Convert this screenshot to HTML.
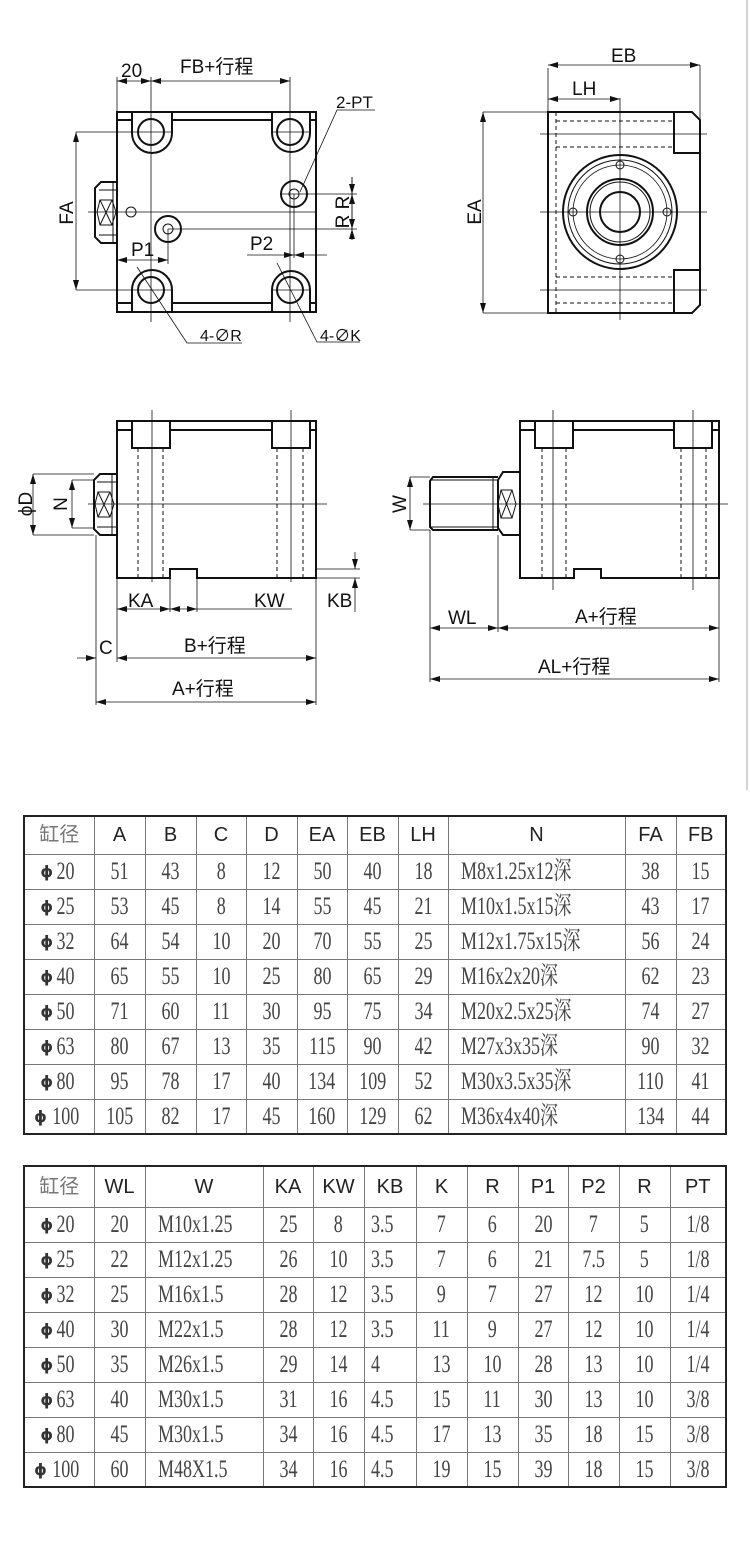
<!DOCTYPE html>
<html><head><meta charset="utf-8"><style>
body{margin:0;background:#fff;width:750px;height:1564px;position:relative;overflow:hidden;font-family:"Liberation Sans","Noto Sans CJK SC",sans-serif}
svg{position:absolute;left:0;top:0}
table{position:absolute;left:23px;border-collapse:collapse;table-layout:fixed;border:2px solid #222}
td{border:1px solid #777;padding:0;text-align:center;color:#222;overflow:hidden;white-space:nowrap;line-height:20px}
tr.h td{font-family:"Liberation Sans","Noto Sans CJK SC",sans-serif;font-size:20px}
td.g{font-family:"Noto Serif CJK SC","Liberation Serif",serif;color:#777;font-size:20px}
.d{display:inline-block;font-family:"Liberation Serif","Noto Serif CJK SC",serif;font-size:25px;line-height:20px;transform:scaleX(.72);color:#444;position:relative;top:2px}
td.l{text-align:left;padding-left:12px}
td.l .d{transform-origin:left center}
.p{font-family:"DejaVu Sans",sans-serif;font-weight:bold;font-size:16px;line-height:20px;color:#333}
</style></head><body>
<svg width="750" height="790" viewBox="0 0 750 790" fill="none" stroke="#111" font-family="Liberation Sans, Noto Sans CJK SC, sans-serif">
<defs><marker id="a" viewBox="0 0 10 6" refX="10" refY="3" markerWidth="10" markerHeight="6" orient="auto-start-reverse" markerUnits="userSpaceOnUse"><path d="M0,0L10,3L0,6z" fill="#111" stroke="none"/></marker></defs>
<line x1="747" y1="0" x2="747" y2="790" stroke="#aaa"/>
<!-- TOP LEFT -->
<g stroke-width="2">
<rect x="117" y="112" width="199" height="200"/>
<path d="M132,112V133A20,20 0 0 0 172,133V112M272,112V133A19,19 0 0 0 310,133V112"/>
<path d="M132,312V290A20,20 0 0 1 172,290V312M272,312V290A19,19 0 0 1 310,290V312"/>
<path d="M117,120H132M172,120H272M310,120H316M117,303H132M172,303H272M310,303H316"/>
<circle cx="151" cy="132" r="13"/><circle cx="290" cy="132" r="13"/>
<circle cx="151" cy="290" r="13"/><circle cx="290" cy="290" r="13"/>
<circle cx="294" cy="194" r="13"/><circle cx="168" cy="229" r="13"/>
<path d="M117,182H101L95,188V237L101,243H117"/>
</g>
<g stroke-width="1">
<circle cx="294" cy="194" r="5"/><circle cx="168" cy="229" r="5"/><circle cx="131" cy="212" r="5"/>
<path d="M100,200H112L116,212L112,225H100L97,212Z M100,200L112,225M112,200L100,225M113,182V243M99,190H117M99,235H117"/>
</g>
<g stroke-width="0.8">
<path d="M88,212H316M76,132H172M76,290H172M151,77V322M290,77V322M117,77V112M272,132H309M272,290H309"/>
<path d="M280,194H357M168,229H357M294,194V258M168,229V264M352,177V240"/>
<line x1="117" y1="81" x2="151" y2="81" marker-start="url(#a)" marker-end="url(#a)"/>
<line x1="151" y1="81" x2="290" y2="81" marker-start="url(#a)" marker-end="url(#a)"/>
<line x1="76" y1="132" x2="76" y2="290" marker-start="url(#a)" marker-end="url(#a)"/>
<line x1="117" y1="260" x2="168" y2="260" marker-start="url(#a)" marker-end="url(#a)"/>
<line x1="247" y1="255" x2="294" y2="255" marker-end="url(#a)"/><line x1="327" y1="255" x2="294" y2="255" marker-end="url(#a)"/>
<line x1="352" y1="177" x2="352" y2="194" marker-end="url(#a)"/><line x1="352" y1="212" x2="352" y2="194" marker-end="url(#a)"/>
<line x1="352" y1="212" x2="352" y2="229" marker-end="url(#a)"/><line x1="352" y1="240" x2="352" y2="229" marker-end="url(#a)"/>
<path d="M300,192L337,110H375M137,267L187,343H242M277,263L317,342H360"/>
</g>
<g fill="#111" stroke="none" font-size="19">
<text x="121" y="77">20</text><text x="180" y="73">FB+行程</text>
<text x="336" y="108" font-size="17">2-PT</text><text x="131" y="256">P1</text><text x="250" y="250">P2</text>
<text x="200" y="341" font-size="16">4-∅R</text><text x="320" y="341" font-size="16">4-∅K</text>
<text transform="translate(73,213) rotate(-90)" text-anchor="middle">FA</text>
<text transform="translate(349,212) rotate(-90)" text-anchor="middle">R R</text>
</g>
<!-- TOP RIGHT -->
<g stroke-width="2">
<path d="M548,112H692L700,120V305L692,313H548Z"/>
<path d="M674,112V153H700M674,313V270H700"/>
<circle cx="620" cy="212" r="57"/><circle cx="620" cy="212" r="33"/><circle cx="620" cy="212" r="20"/>
</g>
<g stroke-width="1">
<circle cx="620" cy="212" r="52"/><circle cx="620" cy="212" r="30"/>
<circle cx="620" cy="165" r="4"/><circle cx="620" cy="259" r="4"/><circle cx="573" cy="212" r="4"/><circle cx="667" cy="212" r="4"/>
<path d="M556,112V313M556,121H674M556,147H674M556,277H674M556,303H674" stroke-dasharray="4,3"/>
</g>
<g stroke-width="0.8">
<circle cx="620" cy="212" r="47"/>
<path d="M540,134H707M540,290H707M540,212H707M620,98V320M548,68V112M700,65V120M483,112H548M483,313H548"/>
<line x1="548" y1="65" x2="700" y2="65" marker-start="url(#a)" marker-end="url(#a)"/>
<line x1="548" y1="99" x2="620" y2="99" marker-start="url(#a)" marker-end="url(#a)"/>
<line x1="483" y1="112" x2="483" y2="313" marker-start="url(#a)" marker-end="url(#a)"/>
</g>
<g fill="#111" stroke="none" font-size="19">
<text x="611" y="62">EB</text><text x="572" y="95">LH</text>
<text transform="translate(481,212) rotate(-90)" text-anchor="middle">EA</text>
</g>
<!-- BOTTOM LEFT -->
<g stroke-width="2">
<path d="M117,421H316V578H197V569H170V578H117Z"/>
<path d="M132,421V448H170V421M272,421V448H310V421M117,430H132M170,430H272M310,430H316"/>
<path d="M117,474H100L94,480V529L100,535H117"/>
</g>
<g stroke-width="1">
<path d="M98,492H110L114,504L110,517H98L95,504Z M98,492L110,517M110,492L98,517M112,474V535M97,482H117M97,527H117"/>
<path d="M138,448V578M163,448V578M277,448V578M303,448V578" stroke-dasharray="4,3"/>
</g>
<g stroke-width="0.8">
<path d="M152,410V582M291,410V582M88,504H327M33,474H94M72,480H94M72,528H94M33,535H94"/>
<path d="M316,569H360M316,578H360M170,578V612M197,578V612M96,535V705M117,578V662M316,578V705"/>
<line x1="33" y1="474" x2="33" y2="535" marker-start="url(#a)" marker-end="url(#a)"/>
<line x1="72" y1="480" x2="72" y2="528" marker-start="url(#a)" marker-end="url(#a)"/>
<line x1="355" y1="552" x2="355" y2="569" marker-end="url(#a)"/><line x1="355" y1="612" x2="355" y2="578" marker-end="url(#a)"/>
<line x1="117" y1="609" x2="170" y2="609" marker-start="url(#a)" marker-end="url(#a)"/>
<line x1="170" y1="609" x2="197" y2="609" marker-start="url(#a)" marker-end="url(#a)"/>
<line x1="197" y1="609" x2="292" y2="609"/>
<line x1="77" y1="658" x2="96" y2="658" marker-end="url(#a)"/>
<line x1="117" y1="658" x2="316" y2="658" marker-start="url(#a)" marker-end="url(#a)"/>
<line x1="96" y1="702" x2="316" y2="702" marker-start="url(#a)" marker-end="url(#a)"/>
</g>
<g fill="#111" stroke="none" font-size="19">
<text x="128" y="607">KA</text><text x="254" y="607">KW</text><text x="327" y="607">KB</text>
<text x="99" y="654">C</text><text x="184" y="652">B+行程</text><text x="172" y="695">A+行程</text>
<text transform="translate(32,504) rotate(-90)" text-anchor="middle">ϕD</text>
<text transform="translate(67,504) rotate(-90)" text-anchor="middle">N</text>
</g>
<!-- BOTTOM RIGHT -->
<g stroke-width="2">
<path d="M520,421H719V578H601V569H574V578H520Z"/>
<path d="M535,421V448H573V421M674,421V448H712V421M520,430H535M573,430H674M712,430H719"/>
<path d="M520,472H503L498,480V528L503,535H520Z"/>
<path d="M498,477H433L430,481V527L433,530H498"/>
</g>
<g stroke-width="1">
<path d="M501,490H512L516,504L512,518H501L498,504Z M501,490L512,518M512,490L501,518"/>
<path d="M430,480H498M430,527H498M493,477V530"/>
<path d="M542,448V578M566,448V578M681,448V578M706,448V578" stroke-dasharray="4,3"/>
</g>
<g stroke-width="0.8">
<path d="M553,410V590M693,410V590M423,504H728M410,477H430M410,530H430M430,530V682M498,535V632M719,578V682"/>
<line x1="410" y1="477" x2="410" y2="530" marker-start="url(#a)" marker-end="url(#a)"/>
<line x1="430" y1="628" x2="498" y2="628" marker-start="url(#a)" marker-end="url(#a)"/>
<line x1="498" y1="628" x2="719" y2="628" marker-start="url(#a)" marker-end="url(#a)"/>
<line x1="430" y1="679" x2="719" y2="679" marker-start="url(#a)" marker-end="url(#a)"/>
</g>
<g fill="#111" stroke="none" font-size="19">
<text x="448" y="624">WL</text><text x="575" y="623">A+行程</text><text x="538" y="673">AL+行程</text>
<text transform="translate(406,504) rotate(-90)" text-anchor="middle">W</text>
</g>
</svg>

<table style="top:815px;width:704px">
<colgroup><col style="width:70px"><col style="width:51px"><col style="width:51px"><col style="width:50px"><col style="width:51px"><col style="width:50px"><col style="width:51px"><col style="width:50px"><col style="width:177px"><col style="width:51px"><col style="width:50px"></colgroup>
<tr class="h" style="height:38px"><td class="g">缸径</td><td>A</td><td>B</td><td>C</td><td>D</td><td>EA</td><td>EB</td><td>LH</td><td>N</td><td>FA</td><td>FB</td></tr>
<tr style="height:35px"><td><span class="p">ϕ</span><span class="d">20</span></td><td><span class="d">51</span></td><td><span class="d">43</span></td><td><span class="d">8</span></td><td><span class="d">12</span></td><td><span class="d">50</span></td><td><span class="d">40</span></td><td><span class="d">18</span></td><td class="l"><span class="d">M8x1.25x12深</span></td><td><span class="d">38</span></td><td><span class="d">15</span></td></tr>
<tr style="height:35px"><td><span class="p">ϕ</span><span class="d">25</span></td><td><span class="d">53</span></td><td><span class="d">45</span></td><td><span class="d">8</span></td><td><span class="d">14</span></td><td><span class="d">55</span></td><td><span class="d">45</span></td><td><span class="d">21</span></td><td class="l"><span class="d">M10x1.5x15深</span></td><td><span class="d">43</span></td><td><span class="d">17</span></td></tr>
<tr style="height:35px"><td><span class="p">ϕ</span><span class="d">32</span></td><td><span class="d">64</span></td><td><span class="d">54</span></td><td><span class="d">10</span></td><td><span class="d">20</span></td><td><span class="d">70</span></td><td><span class="d">55</span></td><td><span class="d">25</span></td><td class="l"><span class="d">M12x1.75x15深</span></td><td><span class="d">56</span></td><td><span class="d">24</span></td></tr>
<tr style="height:35px"><td><span class="p">ϕ</span><span class="d">40</span></td><td><span class="d">65</span></td><td><span class="d">55</span></td><td><span class="d">10</span></td><td><span class="d">25</span></td><td><span class="d">80</span></td><td><span class="d">65</span></td><td><span class="d">29</span></td><td class="l"><span class="d">M16x2x20深</span></td><td><span class="d">62</span></td><td><span class="d">23</span></td></tr>
<tr style="height:35px"><td><span class="p">ϕ</span><span class="d">50</span></td><td><span class="d">71</span></td><td><span class="d">60</span></td><td><span class="d">11</span></td><td><span class="d">30</span></td><td><span class="d">95</span></td><td><span class="d">75</span></td><td><span class="d">34</span></td><td class="l"><span class="d">M20x2.5x25深</span></td><td><span class="d">74</span></td><td><span class="d">27</span></td></tr>
<tr style="height:35px"><td><span class="p">ϕ</span><span class="d">63</span></td><td><span class="d">80</span></td><td><span class="d">67</span></td><td><span class="d">13</span></td><td><span class="d">35</span></td><td><span class="d">115</span></td><td><span class="d">90</span></td><td><span class="d">42</span></td><td class="l"><span class="d">M27x3x35深</span></td><td><span class="d">90</span></td><td><span class="d">32</span></td></tr>
<tr style="height:35px"><td><span class="p">ϕ</span><span class="d">80</span></td><td><span class="d">95</span></td><td><span class="d">78</span></td><td><span class="d">17</span></td><td><span class="d">40</span></td><td><span class="d">134</span></td><td><span class="d">109</span></td><td><span class="d">52</span></td><td class="l"><span class="d">M30x3.5x35深</span></td><td><span class="d">110</span></td><td><span class="d">41</span></td></tr>
<tr style="height:35px"><td><span class="p">ϕ</span><span class="d">100</span></td><td><span class="d">105</span></td><td><span class="d">82</span></td><td><span class="d">17</span></td><td><span class="d">45</span></td><td><span class="d">160</span></td><td><span class="d">129</span></td><td><span class="d">62</span></td><td class="l"><span class="d">M36x4x40深</span></td><td><span class="d">134</span></td><td><span class="d">44</span></td></tr>
</table>

<table style="top:1165px;width:704px">
<colgroup><col style="width:70px"><col style="width:51px"><col style="width:118px"><col style="width:50px"><col style="width:51px"><col style="width:52px"><col style="width:51px"><col style="width:51px"><col style="width:50px"><col style="width:51px"><col style="width:51px"><col style="width:56px"></colgroup>
<tr class="h" style="height:41px"><td class="g">缸径</td><td>WL</td><td>W</td><td>KA</td><td>KW</td><td>KB</td><td>K</td><td>R</td><td>P1</td><td>P2</td><td>R</td><td>PT</td></tr>
<tr style="height:35px"><td><span class="p">ϕ</span><span class="d">20</span></td><td><span class="d">20</span></td><td class="l"><span class="d">M10x1.25</span></td><td><span class="d">25</span></td><td><span class="d">8</span></td><td class="l" style="padding-left:6px"><span class="d">3.5</span></td><td><span class="d">7</span></td><td><span class="d">6</span></td><td><span class="d">20</span></td><td><span class="d">7</span></td><td><span class="d">5</span></td><td><span class="d">1/8</span></td></tr>
<tr style="height:35px"><td><span class="p">ϕ</span><span class="d">25</span></td><td><span class="d">22</span></td><td class="l"><span class="d">M12x1.25</span></td><td><span class="d">26</span></td><td><span class="d">10</span></td><td class="l" style="padding-left:6px"><span class="d">3.5</span></td><td><span class="d">7</span></td><td><span class="d">6</span></td><td><span class="d">21</span></td><td><span class="d">7.5</span></td><td><span class="d">5</span></td><td><span class="d">1/8</span></td></tr>
<tr style="height:35px"><td><span class="p">ϕ</span><span class="d">32</span></td><td><span class="d">25</span></td><td class="l"><span class="d">M16x1.5</span></td><td><span class="d">28</span></td><td><span class="d">12</span></td><td class="l" style="padding-left:6px"><span class="d">3.5</span></td><td><span class="d">9</span></td><td><span class="d">7</span></td><td><span class="d">27</span></td><td><span class="d">12</span></td><td><span class="d">10</span></td><td><span class="d">1/4</span></td></tr>
<tr style="height:35px"><td><span class="p">ϕ</span><span class="d">40</span></td><td><span class="d">30</span></td><td class="l"><span class="d">M22x1.5</span></td><td><span class="d">28</span></td><td><span class="d">12</span></td><td class="l" style="padding-left:6px"><span class="d">3.5</span></td><td><span class="d">11</span></td><td><span class="d">9</span></td><td><span class="d">27</span></td><td><span class="d">12</span></td><td><span class="d">10</span></td><td><span class="d">1/4</span></td></tr>
<tr style="height:35px"><td><span class="p">ϕ</span><span class="d">50</span></td><td><span class="d">35</span></td><td class="l"><span class="d">M26x1.5</span></td><td><span class="d">29</span></td><td><span class="d">14</span></td><td class="l" style="padding-left:6px"><span class="d">4</span></td><td><span class="d">13</span></td><td><span class="d">10</span></td><td><span class="d">28</span></td><td><span class="d">13</span></td><td><span class="d">10</span></td><td><span class="d">1/4</span></td></tr>
<tr style="height:35px"><td><span class="p">ϕ</span><span class="d">63</span></td><td><span class="d">40</span></td><td class="l"><span class="d">M30x1.5</span></td><td><span class="d">31</span></td><td><span class="d">16</span></td><td class="l" style="padding-left:6px"><span class="d">4.5</span></td><td><span class="d">15</span></td><td><span class="d">11</span></td><td><span class="d">30</span></td><td><span class="d">13</span></td><td><span class="d">10</span></td><td><span class="d">3/8</span></td></tr>
<tr style="height:35px"><td><span class="p">ϕ</span><span class="d">80</span></td><td><span class="d">45</span></td><td class="l"><span class="d">M30x1.5</span></td><td><span class="d">34</span></td><td><span class="d">16</span></td><td class="l" style="padding-left:6px"><span class="d">4.5</span></td><td><span class="d">17</span></td><td><span class="d">13</span></td><td><span class="d">35</span></td><td><span class="d">18</span></td><td><span class="d">15</span></td><td><span class="d">3/8</span></td></tr>
<tr style="height:35px"><td><span class="p">ϕ</span><span class="d">100</span></td><td><span class="d">60</span></td><td class="l"><span class="d">M48X1.5</span></td><td><span class="d">34</span></td><td><span class="d">16</span></td><td class="l" style="padding-left:6px"><span class="d">4.5</span></td><td><span class="d">19</span></td><td><span class="d">15</span></td><td><span class="d">39</span></td><td><span class="d">18</span></td><td><span class="d">15</span></td><td><span class="d">3/8</span></td></tr>
</table>
</body></html>
